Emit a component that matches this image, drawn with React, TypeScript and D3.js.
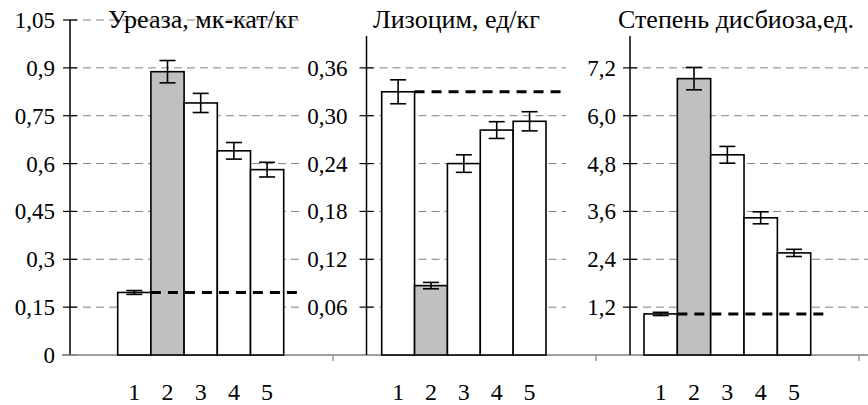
import React, { useEffect, useRef } from "react";
import * as d3 from "d3";

const categories = ["1", "2", "3", "4", "5"];

const ureaseValues = [0.196, 0.888, 0.79, 0.64, 0.581];
const ureaseErrors = [0.006, 0.035, 0.03, 0.026, 0.023];
const ureaseTicks = [0, 0.15, 0.3, 0.45, 0.6, 0.75, 0.9, 1.05];
const ureaseTickLabels = ["0", "0,15", "0,3", "0,45", "0,6", "0,75", "0,9", "1,05"];

const lysozymeValues = [0.33, 0.087, 0.24, 0.282, 0.293];
const lysozymeErrors = [0.015, 0.004, 0.011, 0.0105, 0.012];
const lysozymeTicks = [0.06, 0.12, 0.18, 0.24, 0.3, 0.36];
const lysozymeTickLabels = ["0,06", "0,12", "0,18", "0,24", "0,30", "0,36"];

const dysbiosisValues = [1.03, 6.93, 5.02, 3.44, 2.56];
const dysbiosisErrors = [0.04, 0.28, 0.21, 0.15, 0.09];
const dysbiosisTicks = [1.2, 2.4, 3.6, 4.8, 6.0, 7.2];
const dysbiosisTickLabels = ["1,2", "2,4", "3,6", "4,8", "6,0", "7,2"];

const highlightIndex = 1; // group 2 drawn in grey

const WIDTH = 868;
const HEIGHT = 405;
const BASE_Y = 355;
const TOP_Y = 20;
const FONT = "Liberation Serif";

interface Panel {
  title: string;
  titleX: number;
  values: number[];
  errors: number[];
  ticks: number[];
  tickLabels: string[];
  domainMax: number;
  axisMax: number;
  axisX: number;
  labelGap: number;
  barLeft: number;
  barRight: number;
  gridEnd: number;
  refEnd: number;
}

const panels: Panel[] = [
  {
    title: "Уреаза, мк-кат/кг",
    titleX: 108,
    values: ureaseValues,
    errors: ureaseErrors,
    ticks: ureaseTicks,
    tickLabels: ureaseTickLabels,
    domainMax: 1.05,
    axisMax: 1.05,
    axisX: 70,
    labelGap: 15,
    barLeft: 117.7,
    barRight: 283.7,
    gridEnd: 302,
    refEnd: 302,
  },
  {
    title: "Лизоцим, ед/кг",
    titleX: 373,
    values: lysozymeValues,
    errors: lysozymeErrors,
    ticks: lysozymeTicks,
    tickLabels: lysozymeTickLabels,
    domainMax: 0.42,
    axisMax: 0.4,
    axisX: 366.5,
    labelGap: 19,
    barLeft: 381.7,
    barRight: 546,
    gridEnd: 566,
    refEnd: 566,
  },
  {
    title: "Степень дисбиоза,ед.",
    titleX: 618,
    values: dysbiosisValues,
    errors: dysbiosisErrors,
    ticks: dysbiosisTicks,
    tickLabels: dysbiosisTickLabels,
    domainMax: 8.4,
    axisMax: 8.0,
    axisX: 630,
    labelGap: 14,
    barLeft: 644,
    barRight: 810.7,
    gridEnd: 868,
    refEnd: 828,
  },
];

const App: React.FC = () => {
  const svgRef = useRef<SVGSVGElement | null>(null);

  useEffect(() => {
    if (!svgRef.current) return;
    const svg = d3.select(svgRef.current);
    svg.selectAll("*").remove();

    svg.append("rect").attr("width", WIDTH).attr("height", HEIGHT).attr("fill", "white");

    // shared category baseline
    svg
      .append("line")
      .attr("x1", 62)
      .attr("x2", WIDTH)
      .attr("y1", BASE_Y)
      .attr("y2", BASE_Y)
      .attr("stroke", "#808080")
      .attr("stroke-width", 1.5);

    [333, 596, 859].forEach((tx) => {
      svg
        .append("line")
        .attr("x1", tx)
        .attr("x2", tx)
        .attr("y1", BASE_Y)
        .attr("y2", BASE_Y + 6)
        .attr("stroke", "#808080")
        .attr("stroke-width", 1.2);
    });

    panels.forEach((p) => {
      const g = svg.append("g");
      const y = d3.scaleLinear().domain([0, p.domainMax]).range([BASE_Y, TOP_Y]);
      const x = d3
        .scaleBand<string>()
        .domain(categories)
        .range([p.barLeft, p.barRight])
        .paddingInner(0)
        .paddingOuter(0);

      // gridlines (behind bars)
      g.selectAll(".grid")
        .data(p.ticks.filter((t) => t > 0))
        .enter()
        .append("line")
        .attr("x1", p.axisX)
        .attr("x2", p.gridEnd)
        .attr("y1", (d) => y(d))
        .attr("y2", (d) => y(d))
        .attr("stroke", "#808080")
        .attr("stroke-width", 1)
        .attr("stroke-dasharray", "8,5");

      // y axis line
      g.append("line")
        .attr("x1", p.axisX)
        .attr("x2", p.axisX)
        .attr("y1", y(p.axisMax))
        .attr("y2", BASE_Y)
        .attr("stroke", "black")
        .attr("stroke-width", 1.5);

      // crossing tick marks
      g.selectAll(".tick")
        .data(p.ticks)
        .enter()
        .append("line")
        .attr("x1", p.axisX - 7)
        .attr("x2", p.axisX + 7)
        .attr("y1", (d) => y(d))
        .attr("y2", (d) => y(d))
        .attr("stroke", (d) => (d === 0 ? "#808080" : "black"))
        .attr("stroke-width", 1.2);

      g.selectAll(".tickLabel")
        .data(p.ticks)
        .enter()
        .append("text")
        .attr("x", p.axisX - p.labelGap)
        .attr("y", (d) => y(d))
        .attr("dy", "0.35em")
        .attr("text-anchor", "end")
        .style("font-family", FONT)
        .style("font-size", "23px")
        .text((_, i) => p.tickLabels[i]);

      // bars
      g.selectAll(".bar")
        .data(p.values)
        .enter()
        .append("rect")
        .attr("x", (_, i) => x(categories[i])!)
        .attr("y", (d) => y(d))
        .attr("width", x.bandwidth())
        .attr("height", (d) => BASE_Y - y(d))
        .attr("fill", (_, i) => (i === highlightIndex ? "#c0c0c0" : "white"))
        .attr("stroke", "black")
        .attr("stroke-width", 1.6);

      // error bars
      const cx = (i: number) => x(categories[i])! + x.bandwidth() / 2;
      p.values.forEach((v, i) => {
        const e = p.errors[i];
        const eg = g.append("g").attr("stroke", "black").attr("stroke-width", 1.6);
        eg.append("line").attr("x1", cx(i)).attr("x2", cx(i)).attr("y1", y(v + e)).attr("y2", y(v - e));
        [v + e, v - e].forEach((yv) => {
          eg.append("line")
            .attr("x1", cx(i) - 8)
            .attr("x2", cx(i) + 8)
            .attr("y1", y(yv))
            .attr("y2", y(yv));
        });
      });

      // control level reference line (group 1)
      g.append("line")
        .attr("x1", x(categories[1])!)
        .attr("x2", p.refEnd)
        .attr("y1", y(p.values[0]))
        .attr("y2", y(p.values[0]))
        .attr("stroke", "black")
        .attr("stroke-width", 3)
        .attr("stroke-dasharray", "10,7");

      // category labels
      g.selectAll(".cat")
        .data(categories)
        .enter()
        .append("text")
        .attr("x", (d) => x(d)! + x.bandwidth() / 2)
        .attr("y", 400)
        .attr("text-anchor", "middle")
        .style("font-family", FONT)
        .style("font-size", "24px")
        .text((d) => d);

      g.append("text")
        .attr("x", p.titleX)
        .attr("y", 28)
        .style("font-family", FONT)
        .style("font-size", "26px")
        .text(p.title);
    });
  }, []);

  return (
    <svg
      ref={svgRef}
      width={WIDTH}
      height={HEIGHT}
      style={{ position: "absolute", left: 0, top: 0 }}
    ></svg>
  );
};

export default App;
